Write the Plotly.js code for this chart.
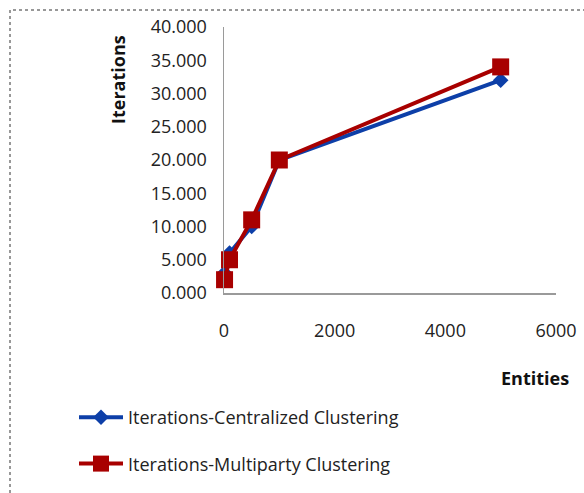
<!DOCTYPE html>
<html>
<head>
<meta charset="utf-8">
<script src="https://cdn.plot.ly/plotly-3.0.1.min.js"></script>
<style>html,body{margin:0;padding:0;background:#fff;}#chart{width:584px;height:493px;}</style>
</head>
<body>
<div id="chart"></div>
<script>
var entities = [10, 100, 500, 1000, 5000];
var centralized = [3, 6, 10, 20, 32];
var multiparty = [2, 5, 11, 20, 34];
var seriesNames = ["Iterations-Centralized Clustering", "Iterations-Multiparty Clustering"];
var yTicks = [0, 5, 10, 15, 20, 25, 30, 35, 40];
var xTicks = [0, 2000, 4000, 6000];

var FONT = "Open Sans, sans-serif";
var traces = [
  {x: entities, y: centralized, name: seriesNames[0], type: "scatter", mode: "lines+markers",
   line: {color: "#0D3FA8", width: 4}, marker: {symbol: "diamond", size: 12, color: "#0D3FA8"},
   legendgroup: "a", cliponaxis: false},
  {x: entities, y: multiparty, name: seriesNames[1], type: "scatter", mode: "lines+markers",
   line: {color: "#A80000", width: 4}, marker: {symbol: "square", size: 17, color: "#A80000"},
   legendgroup: "b", cliponaxis: false}
];
var layout = {
  width: 584, height: 493,
  margin: {l: 224, r: 28, t: 27, b: 200, autoexpand: false},
  paper_bgcolor: "#fff", plot_bgcolor: "#fff",
  font: {family: FONT, size: 18, color: "#222"},
  showlegend: true,
  legend: {x: (74-224)/332, y: (293-399)/266, xanchor: "left", yanchor: "top", tracegroupgap: 20,
           itemwidth: 44,
           font: {family: FONT, size: 18, color: "#222"}, bgcolor: "rgba(0,0,0,0)"},
  xaxis: {range: [0, 6000], tickvals: xTicks, ticktext: xTicks.map(String), showgrid: false, zeroline: false,
          showline: true, linecolor: "#9a9a9a", linewidth: 1.5, ticks: "", ticklabelstandoff: 21,
          tickfont: {family: FONT, size: 18, color: "#222"}},
  yaxis: {range: [0, 40], tickvals: yTicks, ticktext: yTicks.map(function(v){return v.toFixed(3);}),
          showgrid: false, zeroline: false, showline: true, linecolor: "#9a9a9a", linewidth: 1.5,
          ticks: "", ticklabelstandoff: 12, tickfont: {family: FONT, size: 18, color: "#222"}},
  annotations: [
    {text: "<b>Iterations</b>", xref: "paper", yref: "paper", x: (118-224)/332, y: (293-80)/266,
     xanchor: "center", yanchor: "middle",
     showarrow: false, textangle: -90, font: {family: FONT, size: 18, color: "#111"}},
    {text: "<b>Entities</b>", xref: "paper", yref: "paper", x: (535-224)/332, y: (293-378)/266,
     xanchor: "center", yanchor: "middle",
     showarrow: false, font: {family: FONT, size: 18, color: "#111"}}
  ],
  shapes: [
    {type: "rect", xref: "paper", yref: "paper", x0: (10-224)/332, x1: (600-224)/332,
     y0: (293-510)/266, y1: (293-10)/266, line: {color: "#777", width: 1.5, dash: "dot"}}
  ]
};
Plotly.newPlot("chart", traces, layout, {displayModeBar: false, staticPlot: true});
</script>
</body>
</html>
